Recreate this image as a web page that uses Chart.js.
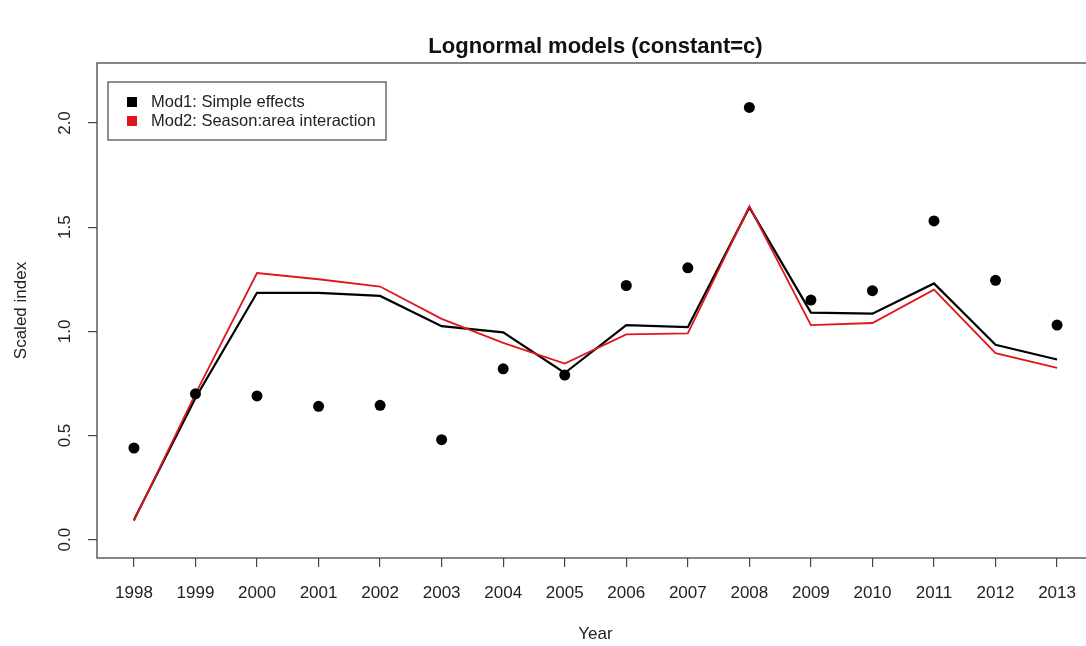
<!DOCTYPE html>
<html>
<head>
<meta charset="utf-8">
<script src="https://cdn.jsdelivr.net/npm/chart.js@4/dist/chart.umd.min.js"></script>
<style>
  html, body { margin: 0; padding: 0; background: #fff; overflow: hidden; }
  #wrap { width: 1100px; height: 646px; }
</style>
</head>
<body>
<div id="wrap"><canvas id="c" width="1100" height="646"></canvas></div>
<script>
const years = [1998,1999,2000,2001,2002,2003,2004,2005,2006,2007,2008,2009,2010,2011,2012,2013];
const observed = [0.44,0.70,0.69,0.64,0.645,0.48,0.82,0.79,1.22,1.305,2.075,1.15,1.195,1.53,1.245,1.03];
const mod1 = [0.095,0.68,1.185,1.185,1.17,1.025,0.995,0.80,1.03,1.02,1.595,1.09,1.085,1.23,0.935,0.865];
const mod2 = [0.09,0.70,1.28,1.25,1.215,1.06,0.945,0.845,0.985,0.99,1.60,1.03,1.04,1.20,0.895,0.825];
const yTicks = [0.0,0.5,1.0,1.5,2.0];
const yTickLabels = ["0.0","0.5","1.0","1.5","2.0"];
const legendLabels = ["Mod1: Simple effects","Mod2: Season:area interaction"];
const titleText = "Lognormal models (constant=c)";
const xTitle = "Year";
const yTitle = "Scaled index";

const FONT = '"Liberation Sans", Arial, Helvetica, sans-serif';
const TXT = '#222';

const toXY = arr => arr.map((v,i)=>({x:years[i], y:v}));

const decor = {
  id: 'decor',
  afterDraw(chart) {
    const ctx = chart.ctx;
    const a = chart.chartArea;
    const ys = chart.scales.y;
    ctx.save();
    // frame
    ctx.strokeStyle = '#444';
    ctx.lineWidth = 1.3;
    ctx.strokeRect(a.left, a.top, a.right - a.left, a.bottom - a.top);
    // y tick labels rotated
    ctx.fillStyle = TXT;
    ctx.font = '17px ' + FONT;
    ctx.textAlign = 'center';
    ctx.textBaseline = 'middle';
    yTicks.forEach((v,i)=>{
      const py = ys.getPixelForValue(v);
      ctx.save();
      ctx.translate(65, py);
      ctx.rotate(-Math.PI/2);
      ctx.fillText(yTickLabels[i], 0, 0);
      ctx.restore();
    });
    // y title
    ctx.save();
    ctx.translate(21, (a.top + a.bottom)/2);
    ctx.rotate(-Math.PI/2);
    ctx.font = '17px ' + FONT;
    ctx.fillText(yTitle, 0, 0);
    ctx.restore();
    // x title
    ctx.font = '17px ' + FONT;
    ctx.fillText(xTitle, (a.left + a.right)/2, 634);
    // main title
    ctx.font = 'bold 22px ' + FONT;
    ctx.fillStyle = '#111';
    ctx.fillText(titleText, (a.left + a.right)/2, 47);
    // legend
    const lx = 108, ly = 82, lw = 278, lh = 58;
    ctx.strokeStyle = '#444';
    ctx.lineWidth = 1.2;
    ctx.strokeRect(lx, ly, lw, lh);
    const cols = ['#000000', '#e0161c'];
    ctx.font = '16.5px ' + FONT;
    ctx.textAlign = 'left';
    legendLabels.forEach((t,i)=>{
      const cy = 102 + i*19;
      ctx.fillStyle = cols[i];
      ctx.fillRect(127, cy-5, 10, 10);
      ctx.fillStyle = TXT;
      ctx.fillText(t, 151, cy);
    });
    ctx.restore();
  }
};

new Chart(document.getElementById('c'), {
  type: 'line',
  data: {
    datasets: [
      { label: 'Observed', data: toXY(observed), showLine: false, pointRadius: 5.5, pointHoverRadius: 5.5,
        pointBackgroundColor: '#000', pointBorderColor: '#000', borderWidth: 0, order: 0 },
      { label: legendLabels[1], data: toXY(mod2), borderColor: '#e0161c', borderWidth: 1.8, pointRadius: 0,
        tension: 0, fill: false, order: 1 },
      { label: legendLabels[0], data: toXY(mod1), borderColor: '#000', borderWidth: 2.2, pointRadius: 0,
        tension: 0, fill: false, order: 2 }
    ]
  },
  options: {
    responsive: false,
    animation: false,
    devicePixelRatio: 1,
    layout: { padding: { top: 63, right: 6, left: 0, bottom: 0 } },
    plugins: { legend: { display: false }, title: { display: false }, tooltip: { enabled: false } },
    scales: {
      x: {
        type: 'linear', min: 1997.4, max: 2013.6,
        afterBuildTicks: s => { s.ticks = years.map(v => ({ value: v })); },
        afterFit: s => { s.height = 88; },
        ticks: { color: TXT, font: { size: 17, family: FONT }, padding: 16, maxRotation: 0, autoSkip: false,
                 callback: v => String(v) },
        grid: { display: true, drawOnChartArea: false, drawTicks: true, tickLength: 9, color: '#444', lineWidth: 1.2 },
        border: { display: false }
      },
      y: {
        type: 'linear', min: -0.088, max: 2.288,
        afterBuildTicks: s => { s.ticks = yTicks.map(v => ({ value: v })); },
        afterFit: s => { s.width = 97; },
        ticks: { display: false },
        grid: { display: true, drawOnChartArea: false, drawTicks: true, tickLength: 9, color: '#444', lineWidth: 1.2 },
        border: { display: false }
      }
    }
  },
  plugins: [decor]
});
</script>
</body>
</html>
